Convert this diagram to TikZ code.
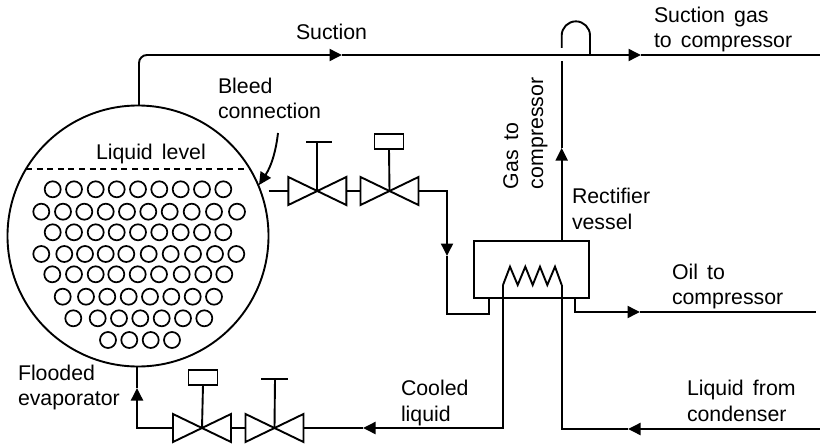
\documentclass[tikz,border=0pt]{standalone}
\usepackage{fontspec}
\setmainfont[WordSpace=1.55]{Liberation Sans}
\usetikzlibrary{arrows.meta}
\tikzset{
  pipe/.style={line width=1.9pt, line cap=butt, line join=miter},
  flow/.style={pipe, -{Triangle[length=12.5pt,width=12pt]}},
  tube/.style={circle, draw, line width=1.7pt, minimum size=16pt, inner sep=0pt, outer sep=0pt},
  lbl/.style={anchor=base west, inner sep=0pt, outer sep=0pt, font=\fontsize{21.3}{24}\selectfont},
  valvebody/.style={minimum width=58pt, minimum height=28pt, inner sep=0pt, outer sep=0pt},
  actuator/.style={draw, line width=1.9pt, minimum width=29pt, minimum height=15pt, inner sep=0pt, outer sep=0pt},
}
\newcommand{\myvalve}[3]{%
  \node[valvebody] (#1) at (#2,#3) {};
  \draw[pipe] (#1.north west) -- (#1.south east) -- (#1.north east) -- (#1.south west) -- cycle;
}
\begin{document}
\begin{tikzpicture}[x=1pt,y=-1pt]
\useasboundingbox (0,0) rectangle (820,444);
% evaporator
\node[circle, draw, line width=1.9pt, minimum size=261pt, inner sep=0pt, outer sep=0pt] (evap) at (138,236) {};
\coordinate (levL) at (26,169.3);
\coordinate (levR) at (250,169.3);
\draw[line width=1.8pt, dash pattern=on 6pt off 4.6pt] (levL) -- (levR);
\node[lbl] (tl) at (96,159) {Liquid level};
% tubes
\foreach \yy/\xs in {
 189.3/{52.7,74,95.7,116.7,138,159.3,180.7,202,223.3},
 211.7/{41.3,63,84.3,105.7,127,148.3,169.7,191.7,214,237},
 232.3/{52.7,74,95.7,116.7,138,159.3,180.7,202,223.3},
 254/{41.3,64.3,85,105.7,126.3,148.7,170.7,193,215,236.3},
 274.3/{52.3,74,95.7,116.3,137.7,159,181.7,203.3,224.3},
 296.7/{62.7,86,107.3,128.7,150,171.3,192.7,214},
 318.3/{73.3,97.7,119,140.3,161.7,183,204.3},
 340/{108,129.3,150.7,172}}{
  \foreach \xx in \xs { \node[tube] at (\xx,\yy) {}; }
}
% suction line
\coordinate (sucCorner) at (139,55);
\coordinate (sucArrow) at (342,55);
\coordinate (sucHumpR) at (590,55);
\coordinate (sucArrow2) at (641,55);
\coordinate (sucEnd) at (820,55);
\draw[flow, rounded corners=8pt] (139,105.7) -- (sucCorner) -- (sucArrow);
\draw[flow] (sucArrow) -- (sucArrow2);
\draw[pipe] (sucArrow2) -- (sucEnd);
% rectifier
\node[draw, line width=1.9pt, minimum width=115pt, minimum height=57pt, inner sep=0pt, outer sep=0pt] (rect) at (531.5,269.7) {};
% gas line with hump
\coordinate (gasArrow) at (561.7,148);
\coordinate (gasTop) at (561.7,61);
\coordinate (humpL) at (561.7,48);
\draw[flow] (561.7,241.2) -- (gasArrow);
\draw[pipe] (gasArrow) -- (gasTop);
\draw[pipe] (humpL) -- (561.7,35.5) arc[start angle=180, end angle=360, radius=14.15] -- (sucHumpR);
% coil
\coordinate (coilL) at (503,285);
\coordinate (coilR) at (561.7,285);
\coordinate (condCorner) at (561.7,429);
\coordinate (condArrow) at (628,429);
\coordinate (condEnd) at (820,429);
\coordinate (coolCorner) at (503,428);
\coordinate (coolArrow) at (363,428);
\draw[pipe] (coilL) -- (510,266.7) -- (517.7,285) -- (525.3,266.7) -- (532.7,285) -- (540,266.7) -- (547.3,285) -- (555,266.7) -- (coilR);
\draw[pipe] (coilR) -- (condCorner) -- (condArrow);
\draw[flow] (condEnd) -- (condArrow);
% valves top
\myvalve{vA}{317.3}{191}
\myvalve{vB}{389.5}{191}
\coordinate (bleedOut) at (vA.west -| evap.east);
\draw[pipe] (bleedOut) -- (vA.west);
\draw[pipe] (vA.east) -- (vB.west);
\coordinate (bleedCorner) at (447,191);
\coordinate (bleedArrow) at (447,256);
\coordinate (bleedLow) at (447,314);
\coordinate (bleedIn) at (489,314);
\draw[flow] (vB.east) -- (bleedCorner) -- (bleedArrow);
\draw[pipe] (bleedArrow) -- (bleedLow) -- (bleedIn) -- (489,298.2);
\coordinate (tA) at (317.3,141.7);
\draw[pipe] (vA.center) -- (tA);
\draw[pipe] (306,141.7) -- (331.5,141.7);
\node[actuator] (actB) at (389,141.5) {};
\draw[pipe] (vB.center) -- (actB.south);
% oil
\coordinate (oilCorner) at (575,312);
\coordinate (oilArrow) at (640,312);
\coordinate (oilEnd) at (815.7,312);
\draw[flow] (575,298.2) -- (oilCorner) -- (oilArrow);
\draw[pipe] (oilArrow) -- (oilEnd);
% bottom valves
\myvalve{vC}{202}{428}
\myvalve{vD}{274.5}{428}
\draw[flow] (coilL) -- (coolCorner) -- (coolArrow);
\draw[pipe] (coolArrow) -- (vD.east);
\draw[pipe] (vD.west) -- (vC.east);
\coordinate (liqCorner) at (137,428);
\coordinate (liqArrow) at (137,388);
\draw[flow] (vC.west) -- (liqCorner) -- (liqArrow);
\draw[pipe] (liqArrow) -- (137,367);
\node[actuator] (actC) at (203,377.3) {};
\draw[pipe] (vC.center) -- (actC.south);
\coordinate (tD) at (275,379);
\draw[pipe] (vD.center) -- (tD);
\draw[pipe] (261,379) -- (288,379);
% bleed pointer
\coordinate (blStart) at (278,133);
\coordinate (blTip) at (259,185);
\draw[flow] (blStart) .. controls (276,150) and (272,165) .. (blTip);
% labels
\node[lbl] (t1) at (296,40) {Suction};
\node[lbl] (t2) at (218,93) {Bleed};
\node[lbl] (t3) at (218,118) {connection};
\node[lbl] (t4) at (654,22.7) {Suction gas};
\node[lbl] (t5) at (654,47.3) {to compressor};
\node[lbl, rotate=90] (t6) at (518,189) {Gas to};
\node[lbl, rotate=90] (t7) at (543,189) {compressor};
\node[lbl] (t8) at (572,203) {Rectifier};
\node[lbl] (t9) at (572,229) {vessel};
\node[lbl] (t10) at (672,279.3) {Oil to};
\node[lbl] (t11) at (672,304.3) {compressor};
\node[lbl] (t12) at (687,395.7) {Liquid from};
\node[lbl] (t13) at (687,421.7) {condenser};
\node[lbl] (t14) at (401,395) {Cooled};
\node[lbl] (t15) at (401,421) {liquid};
\node[lbl] (t16) at (18,380) {Flooded};
\node[lbl] (t17) at (18,405) {evaporator};
\end{tikzpicture}
\end{document}
